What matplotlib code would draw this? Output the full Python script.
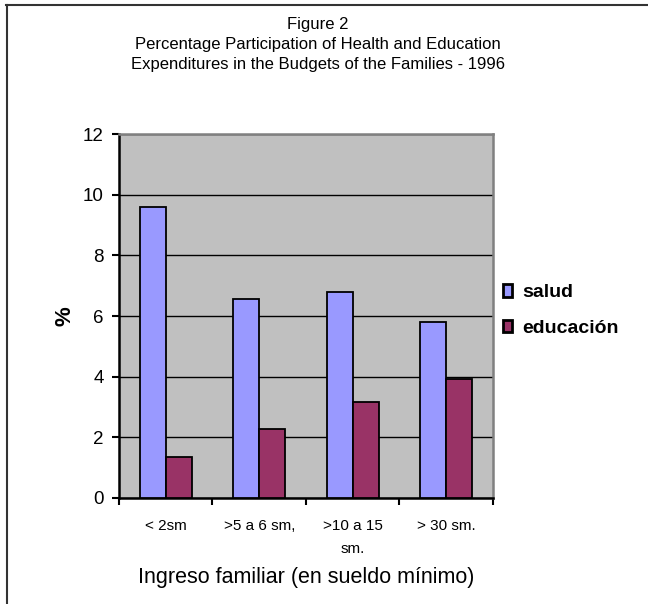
import numpy as np
import matplotlib
matplotlib.use("Agg")
import matplotlib.pyplot as plt
from matplotlib.lines import Line2D

plt.rcParams['font.family'] = ['Liberation Sans', 'DejaVu Sans']

# data
categories = ["< 2sm", ">5 a 6 sm,", ">10 a 15\nsm.", "> 30 sm."]
salud = [9.6, 6.55, 6.8, 5.8]
educacion = [1.35, 2.27, 3.18, 3.92]
series_names = ["salud", "educación"]

fig = plt.figure(figsize=(6.48, 6.04), dpi=100)
ax = fig.add_axes([0.1836, 0.1755, 0.5772, 0.6026])
ax.set_facecolor("#c0c0c0")

x = np.arange(len(categories))
w = 0.28
ax.bar(x - w/2, salud, w, color="#9999ff", edgecolor="black", linewidth=1.3,
       label=series_names[0], zorder=3)
ax.bar(x + w/2, educacion, w, color="#993366", edgecolor="black", linewidth=1.3,
       label=series_names[1], zorder=3)

ax.set_xlim(-0.5, len(categories) - 0.5)
ax.set_ylim(0, 12)
ax.set_yticks(range(0, 13, 2))
ax.yaxis.grid(True, color="black", linewidth=1, zorder=1)
ax.set_axisbelow(True)

ax.set_xticks(x)
ax.set_xticklabels(categories, fontsize=11, linespacing=1.8)
ax.set_xticks(np.arange(-0.5, len(categories)), minor=True)
ax.tick_params(axis='x', which='major', length=0, pad=15)
ax.tick_params(axis='x', which='minor', length=5, width=1.5, direction='out')
ax.tick_params(axis='y', length=5, width=1.5, direction='out', labelsize=13.5, pad=6)

for s in ["left", "bottom"]:
    ax.spines[s].set_color("black")
    ax.spines[s].set_linewidth(1.8)
for s in ["top", "right"]:
    ax.spines[s].set_color("#808080")
    ax.spines[s].set_linewidth(1.8)

ax.set_xlabel("Ingreso familiar (en sueldo mínimo)", fontsize=15.5, labelpad=8)
ax.set_ylabel("%", fontsize=16, fontweight="bold", labelpad=5)

leg = ax.legend(loc="center left", bbox_to_anchor=(1.005, 0.515), frameon=False,
                borderaxespad=0, prop={'weight': 'bold', 'size': 14},
                handlelength=0.5, handleheight=0.6, handletextpad=0.5,
                labelspacing=0.95)
for h in leg.legend_handles:
    h.set_linewidth(2)

fig.text(0.49, 0.960, "Figure 2", ha="center", va="center", fontsize=12)
fig.text(0.49, 0.927, "Percentage Participation of Health and Education",
         ha="center", va="center", fontsize=12)
fig.text(0.49, 0.894, "Expenditures in the Budgets of the Families - 1996",
         ha="center", va="center", fontsize=12)

# frame: top and left edges only
fig.lines.append(Line2D([0.010, 1.0], [0.9917, 0.9917], transform=fig.transFigure,
                        color="#333333", linewidth=1.5))
fig.lines.append(Line2D([0.0105, 0.0105], [0.0, 0.992], transform=fig.transFigure,
                        color="#333333", linewidth=1.5))

fig.savefig("out.png", dpi=100)
